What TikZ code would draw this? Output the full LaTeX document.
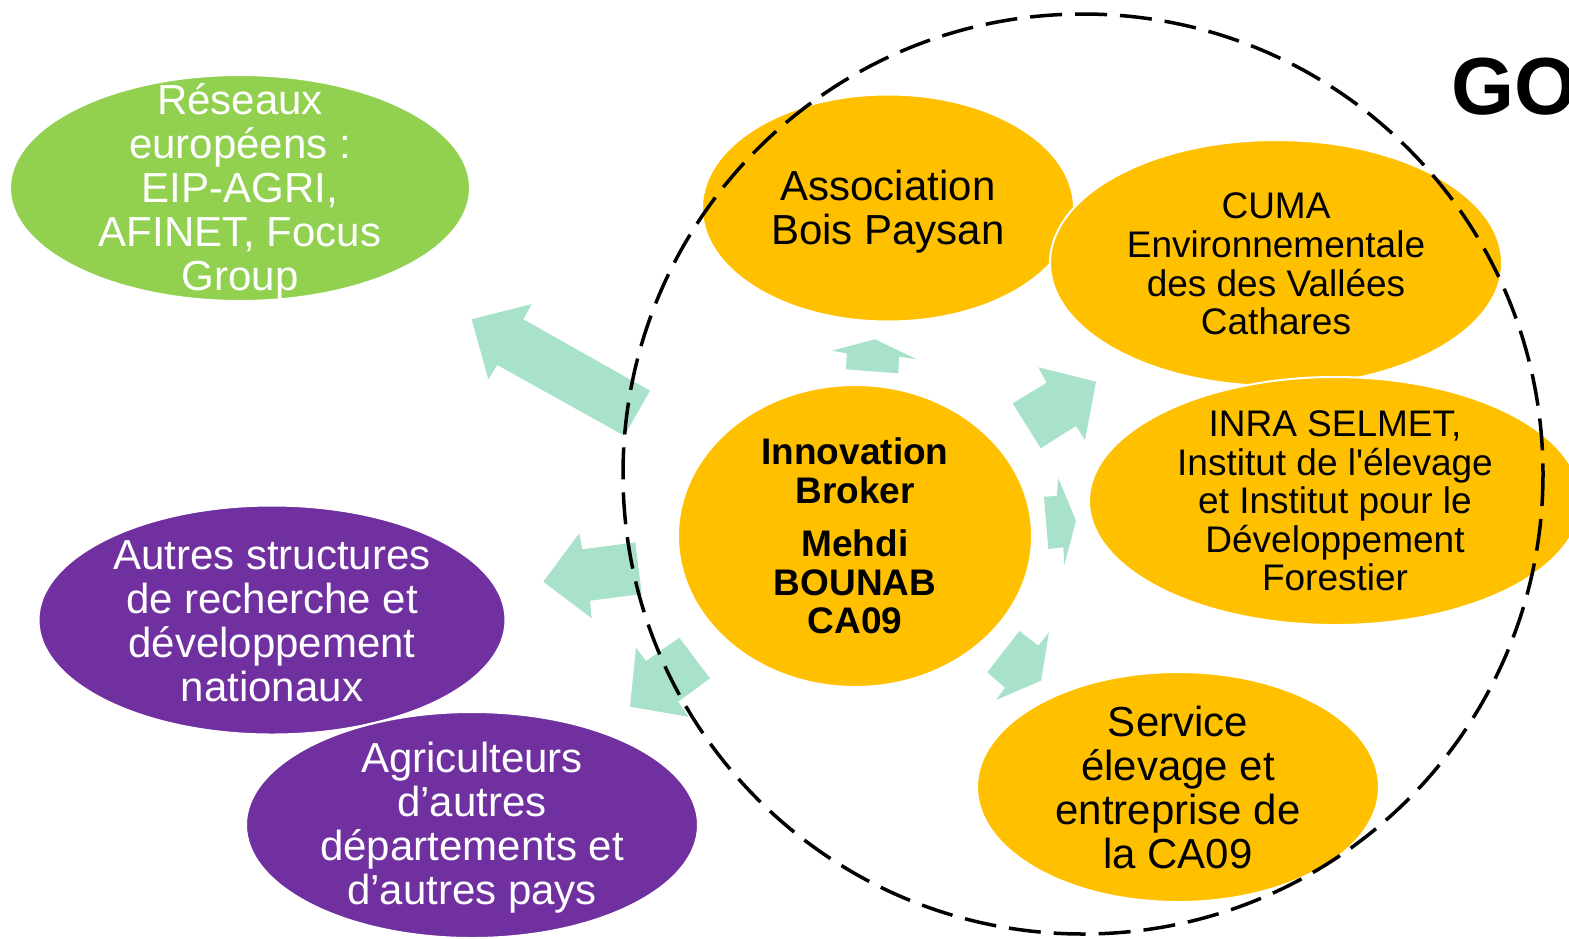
\documentclass[tikz,border=0pt]{standalone}
\usepackage{fontspec}
\setmainfont{Liberation Sans}[Ligatures=TeXOff]
\usetikzlibrary{shapes.geometric}
\definecolor{orangeY}{RGB}{255,192,0}
\definecolor{greenL}{RGB}{146,208,80}
\definecolor{purpleD}{RGB}{112,48,160}
\definecolor{mint}{RGB}{169,226,203}
\begin{document}
\begin{tikzpicture}[x=1pt,y=-1pt,
  blob/.style={ellipse, draw=white, line width=2pt, inner sep=0pt},
  oblob/.style={blob, fill=orangeY},
  bigtxt/.style={align=center, inner sep=0pt, font=\fontsize{42}{44}\selectfont},
  midtxt/.style={align=center, inner sep=0pt, font=\fontsize{37}{38.6}\selectfont},
  boldtxt/.style={align=center, inner sep=0pt, font=\bfseries\fontsize{37}{38.6}\selectfont},
  flow/.style={fill=mint},
  ring/.style={draw=black, line width=3.5pt, dash pattern=on 32pt off 13pt}
]
\clip (0,0) rectangle (1569,938);
\fill[white] (0,0) rectangle (1569,938);

% left side blobs
\node[blob, fill=greenL, minimum width=460pt, minimum height=226pt] (reseaux) at (240,188) {};
\node[bigtxt, text=white, yshift=-3pt] (reseauxT) at (reseaux.center) {Réseaux\\européens :\\EIP-AGRI,\\AFINET, Focus\\Group};

\node[blob, fill=purpleD, minimum width=467pt, minimum height=229pt] (autres) at (272,620) {};
\node[bigtxt, text=white, yshift=-1pt] (autresT) at (autres.center) {Autres structures\\de recherche et\\développement\\nationaux};

\node[blob, fill=purpleD, minimum width=452pt, minimum height=226pt] (agri) at (472,825) {};
\node[bigtxt, text=white, yshift=-3pt] (agriT) at (agri.center) {Agriculteurs\\d’autres\\départements et\\d’autres pays};

% block arrows
\fill[flow] (471.7,319.3) -- (531.7,304) -- (523.3,319.3) -- (650,390.7) -- (624.3,435.7) -- (497.3,365) -- (488.3,379.3) -- cycle;
\fill[flow] (543.3,581.7) -- (579.3,533.3) -- (582.3,549.3) -- (635.3,542.3) -- (641.7,594) -- (590,600.7) -- (591.7,618.3) -- cycle;
\fill[flow] (630,706.7) -- (636,647.7) -- (646,661) -- (679.3,637.7) -- (710,678.3) -- (678.3,701.7) -- (688.3,716.7) -- cycle;
\fill[flow] (875,339.3) -- (916.7,359.3) -- (899,356.7) -- (898.3,373.3) -- (846,369.3) -- (846.7,353.3) -- (831.7,350.7) -- cycle;
\fill[flow] (1096,381.7) -- (1085,440) -- (1076,426) -- (1040.7,448.3) -- (1012.7,403.3) -- (1046.7,382.7) -- (1038.3,367.3) -- cycle;
\fill[flow] (1076,520.7) -- (1064.3,565) -- (1063.3,547.3) -- (1048.3,549) -- (1044,496.7) -- (1056.7,496) -- (1058.3,478.3) -- cycle;
\fill[flow] (1041,680.7) -- (996,700) -- (1005,687.7) -- (987.3,672.3) -- (1019.3,631) -- (1038.3,645.7) -- (1049,632.3) -- cycle;

% right side blobs
\node[oblob, minimum width=372pt, minimum height=227pt] (assoc) at (888,208) {};
\node[bigtxt, yshift=-3.5pt] (assocT) at (assoc.center) {Association\\Bois Paysan};

\node[oblob, minimum width=452pt, minimum height=246pt] (cuma) at (1276,263) {};
\node[midtxt, yshift=-1pt] (cumaT) at (cuma.center) {CUMA\\Environnementale\\des des Vallées\\Cathares};

\node[oblob, minimum width=492pt, minimum height=248pt] (inra) at (1335,501) {};
\node[midtxt] (inraT) at (inra.center) {INRA SELMET,\\Institut de l'élevage\\et Institut pour le\\Développement\\Forestier};

\node[oblob, minimum width=354pt, minimum height=302pt] (broker) at (855,536) {};
\node[boldtxt] (brokerT) at (broker.center) {Innovation\\Broker\\[15pt]Mehdi\\BOUNAB\\CA09};

\node[oblob, minimum width=402pt, minimum height=230pt] (service) at (1178,787) {};
\node[bigtxt] (serviceT) at (service.center) {Service\\élevage et\\entreprise de\\la CA09};

% dashed boundary
\coordinate (ringc) at (1083,474);
\draw[ring] (ringc) circle[radius=460];

% title fragment
\node[anchor=base west, inner sep=0pt, font=\bfseries\fontsize{81}{81}\selectfont] (go) at (1451,114) {GO};
\end{tikzpicture}
\end{document}
